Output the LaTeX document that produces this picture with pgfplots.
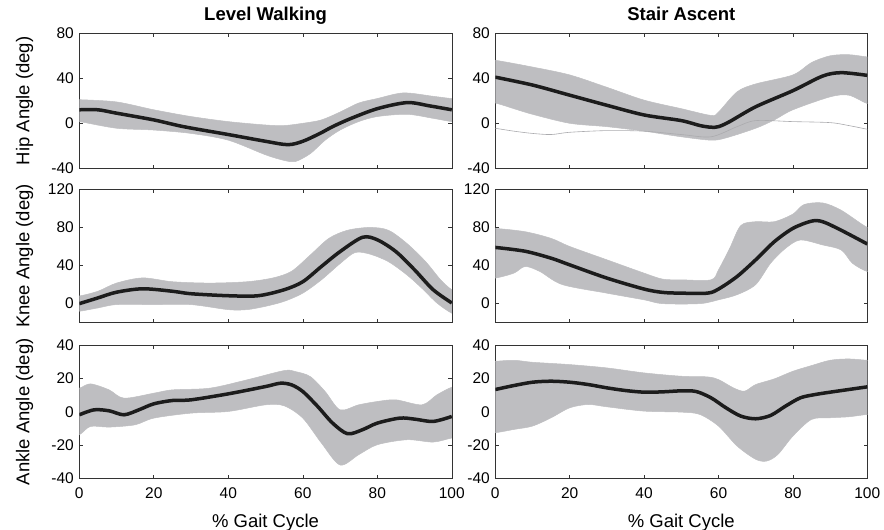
\documentclass[border=0pt]{standalone}
\usepackage{fontspec}
\setmainfont{Liberation Sans}
\usepackage{pgfplots}
\pgfplotsset{compat=1.18}
\definecolor{bandgray}{RGB}{190,190,193}
\definecolor{meanblack}{RGB}{28,28,28}
\pgfplotsset{
  panel/.style={
    scale only axis, anchor=south west,
    xmin=0, xmax=100, xtick={0,20,40,60,80,100},
    tick align=inside, major tick length=3.5pt,
    axis line style={black!80, line width=0.6pt},
    every tick/.style={black!80, line width=0.6pt},
    ticklabel style={font=\fontsize{15.5}{16}\selectfont},
    /pgf/number format/assume math mode=true,
    yticklabel style={xshift=-2pt},
    xticklabel style={yshift=-6pt},
    label style={font=\fontsize{18.5}{19}\selectfont},
    ylabel style={at={(axis description cs:-0.1342,0.5)}, anchor=base},
    xlabel style={at={(axis description cs:0.5,0)}, anchor=base, yshift=-49.4pt},
    title style={at={(0.5,1)}, anchor=base, yshift=6.6pt, font=\bfseries\fontsize{18.5}{19}\selectfont},
  },
  band/.style={fill=bandgray, draw=bandgray, line width=0.5pt, smooth},
  meanline/.style={meanblack, line width=3.5pt, smooth},
}
\begin{document}
\begin{tikzpicture}
\path[use as bounding box] (0,0) rectangle (884pt,530pt);

% ---------- Hip, level walking
\begin{axis}[panel, at={(79.3pt,361.7pt)}, width=372.5pt, height=135pt,
  ymin=-40, ymax=80, ytick={-40,0,40,80}, xticklabels={},
  title={Level Walking}, ylabel={Hip Angle (deg)}]
% upper envelope (left to right), then lower envelope (right to left)
\addplot[band] coordinates {(-3,21)(0,21)(10,19)(20,12)(30,6)(40,1.5)(50,-1.5)(55,-2)(60,0)(65,3)(70,10)(75,18)(80,22)(87,27)(95,24)(100,22)(103,22)
  (103,1.5)(100,1.5)(95,4.4)(88,8)(80,6)(75,1.5)(70,-6)(66,-15)(62,-27)(58,-34)(55,-33)(50,-28)(40,-15)(30,-9)(20,-6)(10,-4.4)(0,1.5)(-3,1.5)};
\addplot[meanline] coordinates {(0,12)(5,12)(10,9)(20,3)(28,-3)(40,-10)(50,-16)(56,-19)(60,-16)(64.6,-9)(68,-3)(72.7,4)(80,13)(88,18.4)(94,15.5)(100,12)};
\end{axis}

% ---------- Hip, stair ascent
\begin{axis}[panel, at={(495.3pt,361.7pt)}, width=372pt, height=135pt,
  ymin=-40, ymax=80, ytick={-40,0,40,80}, xticklabels={},
  title={Stair Ascent}]
\addplot[band] coordinates {(-3,56)(0,56)(10,50)(20,43)(30,32)(40,20.6)(50,13)(58,7)(60,10)(65,28)(70,35)(80,43)(85,54)(90,60)(95,61)(100,59)(103,59)
  (103,17.6)(100,17.6)(95,25)(90,23.5)(80,12)(75,3)(70,-4.4)(62,-13)(58,-15)(50,-12)(40,-7)(30,-3)(20,0)(10,8)(5,13)(0,18)(-3,18)};
\addplot[draw=bandgray!90!black, line width=0.6pt, smooth] coordinates {(0,-4.4)(5,-7)(10,-9)(15,-10)(20,-8)(30,-6.5)(40,-7)(50,-10)(58,-12)(65,-3)(70,2.4)(80,1.5)(90,0.6)(95,-2)(100,-5.3)};
\addplot[meanline] coordinates {(0,41)(10,34)(20,25)(30,16)(40,7.4)(50,2.4)(55,-2)(58,-3.5)(60,-3)(63,1.5)(70,14.7)(80,29)(88,42)(93,45)(100,42.6)};
\end{axis}

% ---------- Knee, level walking
\begin{axis}[panel, at={(79.3pt,207.3pt)}, width=372.5pt, height=133.4pt,
  ymin=-20, ymax=120, ytick={0,40,80,120}, xticklabels={},
  ylabel={Knee Angle (deg)}]
\addplot[band] coordinates {(-3,8)(0,8)(5,13)(10,21.6)(17,27)(25,23)(35,21.6)(45,23)(52,27)(57,34)(62,51)(67,68.5)(72,77)(78,80)(83,77)(88,63)(93,44)(97,25)(100,14.6)(103,10)
  (103,-12)(100,-10)(96,0.7)(92,16)(88,30)(83,44)(78,52)(74,53.6)(70,42)(65,25)(60,11)(55,2.4)(50,-2.8)(45,-6.3)(40,-6.3)(30,-1)(20,-1)(10,-1)(5,-4.5)(0,-8)(-3,-8)};
\addplot[meanline] coordinates {(0,0)(5,6)(10,12)(17,15.6)(25,13)(30,10.4)(40,8.3)(48,8.3)(55,14.6)(60,23)(65,39)(70,54.6)(76,69.6)(80,67)(85,54.6)(90,35.5)(95,14.6)(100,0.7)};
\end{axis}

% ---------- Knee, stair ascent
\begin{axis}[panel, at={(495.3pt,207.3pt)}, width=372pt, height=133.4pt,
  ymin=-20, ymax=120, ytick={0,40,80,120}, xticklabels={}]
\addplot[band] coordinates {(-3,79)(0,79)(8,75.5)(15,68.5)(20,60)(30,46)(40,32)(45,25.7)(50,25)(58,25)(60,35.5)(63,58)(66,82)(70,86)(75,86)(80,94)(83,104)(88,105.7)(93,98)(100,80)(103,80)
  (103,33.7)(100,33.7)(96,42.4)(93,56.3)(88,61.6)(82,66.8)(78,58)(74,42.4)(70,20)(65,9.4)(60,4)(55,0)(45,0)(40,4)(30,11)(18,20)(12,33.7)(8,39)(5,32)(0,26.8)(-3,26.8)};
\addplot[meanline] coordinates {(0,59)(8,55)(15,47.7)(20,40.7)(30,26.8)(40,15.3)(45,11.8)(50,11)(57,11)(60,15.3)(65,28.5)(70,46)(75,65)(80,79)(85,86.6)(88,86)(93,77)(100,62.6)};
\end{axis}

% ---------- Ankle, level walking
\begin{axis}[panel, at={(79.3pt,51.7pt)}, width=372.5pt, height=133pt,
  ymin=-40, ymax=40, ytick={-40,-20,0,20,40},
  ylabel={Ankle Angle (deg)}, xlabel={\% Gait Cycle}]
\addplot[band] coordinates {(-3,14.2)(0,14.2)(3,16.8)(8,13.2)(12,8.2)(20,11.2)(25,13.2)(35,14.2)(45,19.2)(55,24.8)(58,24.2)(62,21.2)(66,12.2)(70,1.2)(75,4.2)(80,6.2)(85,7.2)(92,4.2)(96,10.2)(100,14.8)(103,16)
  (103,-15.8)(100,-15.8)(95,-18.2)(88,-16.8)(80,-19.8)(75,-25.8)(70,-32)(65,-18.8)(60,-3.8)(55,3.6)(50,4.2)(40,0.2)(30,-0.8)(20,-3.8)(15,-7.8)(8,-9.2)(3,-8.8)(0,-13.8)(-3,-14)};
\addplot[meanline] coordinates {(0,-1.8)(4,1.2)(8,0.6)(12,-1.8)(16,1.2)(20,4.8)(25,6.8)(30,7.2)(40,10.8)(50,15.2)(54,17.2)(57,16.2)(60,12.2)(64,3.2)(68,-6.8)(72,-13.2)(76,-10.8)(80,-6.8)(86,-3.8)(90,-4.4)(95,-5.8)(100,-2.8)};
\end{axis}

% ---------- Ankle, stair ascent
\begin{axis}[panel, at={(495.3pt,51.7pt)}, width=372pt, height=133pt,
  ymin=-40, ymax=40, ytick={-40,-20,0,20,40},
  xlabel={\% Gait Cycle}]
\addplot[band] coordinates {(-3,30.4)(0,30.4)(5,31)(10,29.8)(20,28.4)(30,26.4)(40,23.4)(50,21.4)(57,21)(60,19.4)(64,14.4)(67,12.4)(70,16.4)(75,19.8)(80,24.4)(85,27.8)(90,31)(95,31.8)(100,31)(103,31)
  (103,-1.6)(100,-1.6)(95,-3)(90,-3.6)(85,-4.6)(80,-14.6)(76,-25.6)(73,-29.6)(70,-28.6)(65,-20.6)(60,-8.6)(55,-1.6)(50,-0.2)(40,0.4)(30,3)(25,4.4)(20,2.4)(15,-3.6)(10,-8.6)(5,-10.6)(0,-12.6)(-3,-12.6)};
\addplot[meanline] coordinates {(0,13.4)(5,15.8)(10,17.8)(15,18.4)(20,17.8)(25,16.4)(30,14.4)(35,12.8)(40,11.8)(45,12)(50,12.6)(54,12.2)(58,8.4)(62,2.4)(66,-2.6)(70,-4.2)(74,-2.2)(78,3.4)(82,8.4)(86,10.4)(90,11.8)(95,13.4)(100,15)};
\end{axis}
\end{tikzpicture}
\end{document}
